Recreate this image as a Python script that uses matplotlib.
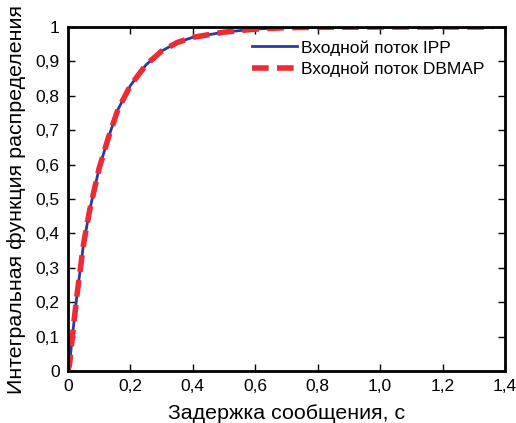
import matplotlib
matplotlib.use("Agg")
import matplotlib.pyplot as plt
from matplotlib.ticker import FuncFormatter

plt.rcParams['font.family'] = ['Liberation Sans', 'DejaVu Sans']

# delay values (s) and CDF
delay = [0, 0.005, 0.01, 0.02, 0.03, 0.05, 0.07, 0.1, 0.13, 0.16, 0.2, 0.25,
         0.3, 0.35, 0.4, 0.5, 0.6, 0.7, 0.8, 1.0, 1.2, 1.36]
cdf_ipp = [0, 0.02, 0.065, 0.15, 0.23, 0.37, 0.47, 0.59, 0.68, 0.76, 0.83, 0.89,
           0.93, 0.955, 0.97, 0.985, 0.994, 0.998, 0.999, 1.0, 1.0, 1.0]
cdf_dbmap = [0, 0.02, 0.065, 0.15, 0.23, 0.37, 0.47, 0.59, 0.68, 0.76, 0.83, 0.89,
             0.93, 0.955, 0.97, 0.985, 0.994, 0.998, 0.999, 1.0, 1.0, 1.0]

xticks = [0, 0.2, 0.4, 0.6, 0.8, 1.0, 1.2, 1.4]
xticklabels = ['0', '0,2', '0,4', '0,6', '0,8', '1,0', '1,2', '1,4']
yticks = [0, 0.1, 0.2, 0.3, 0.4, 0.5, 0.6, 0.7, 0.8, 0.9, 1.0]

fig = plt.figure(figsize=(5.16, 4.23), dpi=100)
ax = fig.add_axes([68/516, 1 - 371/423, 437/516, 344/423])

ax.plot(delay, cdf_ipp, color='#2b3a9e', lw=2, label='Входной поток IPP')
ax.plot(delay, cdf_dbmap, color='#ee2a35', lw=4, ls=(0, (3, 1.5)),
        label='Входной поток DBMAP')

ax.set_xlim(0, 1.4)
ax.set_ylim(0, 1)
ax.set_xticks(xticks)
ax.set_xticklabels(xticklabels)
ax.set_yticks(yticks)
ax.yaxis.set_major_formatter(FuncFormatter(lambda v, p: ('%g' % round(v, 1)).replace('.', ',')))
ax.tick_params(direction='in', top=True, right=True, length=5, width=1,
               labelsize=12.5, pad=6)
for s in ax.spines.values():
    s.set_linewidth(2)

ax.set_xlabel('Задержка сообщения, с', fontsize=15.4, labelpad=7)
ax.set_ylabel('Интегральная функция распределения', fontsize=15.4, labelpad=7)

ax.legend(loc='upper right', bbox_to_anchor=(484/516, 1 - 40/423),
          bbox_transform=fig.transFigure, frameon=False, borderaxespad=0,
          borderpad=0, fontsize=12.5, handlelength=2.6, handletextpad=0.2,
          labelspacing=0.35)

fig.savefig('out.png', dpi=100)
